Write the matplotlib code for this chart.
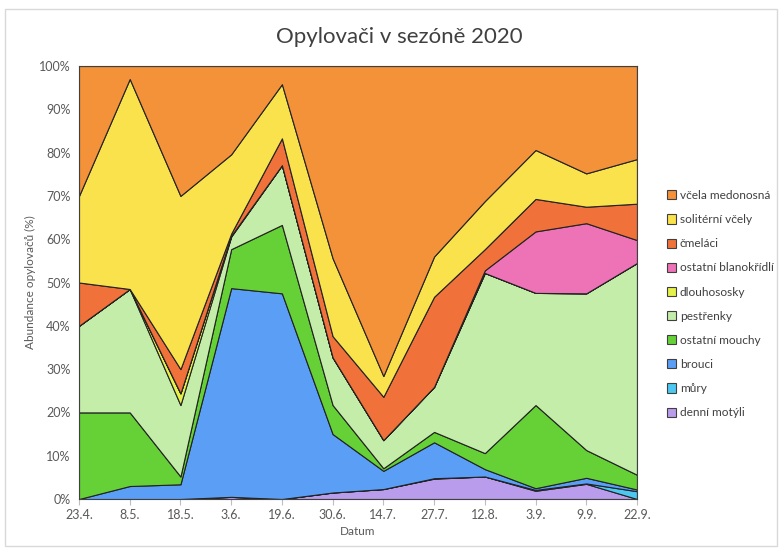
import matplotlib
matplotlib.use('Agg')
import matplotlib.pyplot as plt
from matplotlib.patches import Rectangle, Patch
from matplotlib.ticker import FuncFormatter
import numpy as np

plt.rcParams['font.family'] = ['Lato', 'DejaVu Sans']

# data (podíly v %)
dates = ['23.4.', '8.5.', '18.5.', '3.6.', '19.6.', '30.6.', '14.7.', '27.7.', '12.8.', '3.9.', '9.9.', '22.9.']

denni_motyli = [0, 0, 0, 0.5, 0, 1.5, 2.3, 4.7, 5.2, 1.9, 3.5, 0]
mury = [0, 0, 0, 0, 0, 0, 0, 0.1, 0, 0.2, 0.1, 1.8]
brouci = [0, 3, 3.4, 48.2, 47.5, 13.5, 4.2, 8.3, 1.7, 0.4, 1.3, 0.4]
ostatni_mouchy = [20, 17, 1.8, 9.0, 15.8, 6.7, 0.6, 2.4, 3.7, 19.2, 6.4, 3.4]
pestrenky = [20, 28.5, 16.5, 2.9, 13.8, 11.0, 6.5, 10.4, 41.6, 25.9, 36.2, 48.9]
dlouhososky = [0, 0, 2.7, 0.2, 0, 0, 0, 0, 0, 0, 0, 0]
ostatni_blanokridli = [0, 0, 0, 0, 0, 0, 0, 0, 0.6, 14.2, 16.2, 5.3]
cmelaci = [10, 0, 5.6, 0.5, 6.2, 4.9, 10.0, 20.8, 4.9, 7.5, 3.8, 8.4]
soliterni_vcely = [20, 48.5, 40, 18.3, 12.5, 18.0, 4.8, 9.3, 11.1, 11.3, 7.7, 10.3]
vcela_medonosna = [30, 3, 30, 20.4, 4.2, 44.4, 71.6, 44, 31.2, 19.4, 24.8, 21.5]

labels = ['denní motýli', 'můry', 'brouci', 'ostatní mouchy', 'pestřenky', 'dlouhososky',
          'ostatní blanokřídlí', 'čmeláci', 'solitérní včely', 'včela medonosná']
series = [denni_motyli, mury, brouci, ostatni_mouchy, pestrenky, dlouhososky,
          ostatni_blanokridli, cmelaci, soliterni_vcely, vcela_medonosna]
colors = ['#B99CEC', '#4CC8F0', '#5A9FF5', '#65D137', '#C5EDAA', '#E5F04A',
          '#EE72B6', '#F0723A', '#FAE24C', '#F4923A']

fig = plt.figure(figsize=(7.79, 5.5), dpi=100)
fig.patches.append(Rectangle((0.007, 0.008), 0.99, 0.975, transform=fig.transFigure,
                             fill=False, edgecolor='#D9D9D9', linewidth=1))
ax = fig.add_axes([0.1014, 0.0927, 0.7163, 0.7873])

x = np.arange(len(dates))
ax.stackplot(x, series, colors=colors, edgecolor='#222222', linewidth=0.8)

ax.set_xlim(0, len(dates) - 1)
ax.set_ylim(0, 100)
ax.set_yticks(np.arange(0, 101, 10))
ax.yaxis.set_major_formatter(FuncFormatter(lambda v, p: f"{int(v)}%"))
ax.set_xticks(x)
ax.set_xticklabels(dates)
ax.tick_params(axis='y', length=0, labelsize=9, labelcolor='#595959', pad=6)
ax.tick_params(axis='x', length=4, color='#BFBFBF', labelsize=9, labelcolor='#595959', pad=3)
for s in ax.spines.values():
    s.set_color('#404040')
    s.set_linewidth(0.8)

ax.set_xlabel('Datum', fontsize=8.5, color='#595959', labelpad=4)
ax.set_ylabel('Abundance opylovačů (%)', fontsize=8.5, color='#595959', labelpad=2)
fig.text(0.513, 0.932, 'Opylovači v sezóně 2020', ha='center', va='center',
         fontsize=16, color='#404040')

handles = [Patch(facecolor=c, edgecolor='#404040', linewidth=0.8) for c in colors]
fig.legend(handles[::-1], labels[::-1], loc='center left', bbox_to_anchor=(0.856, 0.447),
           frameon=False, fontsize=8.6, handlelength=0.8, handleheight=0.8,
           handletextpad=0.3, labelspacing=1.1, labelcolor='#404040',
           borderaxespad=0, borderpad=0)

plt.savefig('out.png', dpi=100)
plt.close()
